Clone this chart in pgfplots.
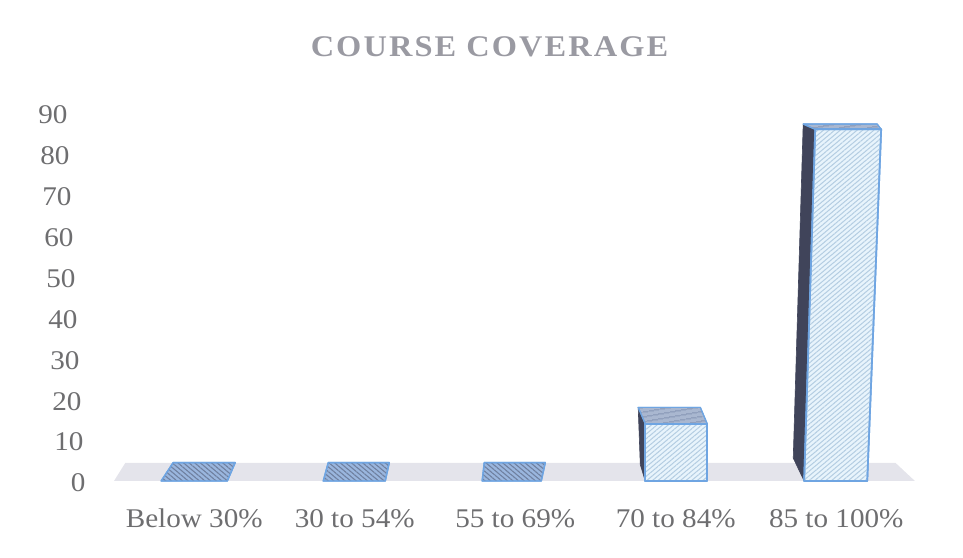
\documentclass[border=0pt]{standalone}
\usepackage{fontspec}
\setmainfont[FakeStretch=1.08]{Liberation Serif}
\usepackage{pgfplots}
\pgfplotsset{compat=1.18}
\usetikzlibrary{patterns.meta}
\definecolor{txt}{HTML}{6E6E70}
\definecolor{ttl}{HTML}{9A9AA2}
\definecolor{edge}{HTML}{6FA5E2}
\definecolor{frontfill}{HTML}{E8F4FC}
\definecolor{fronthatch}{HTML}{B4CDE2}
\definecolor{topfill}{HTML}{A9B7D0}
\definecolor{tophatch}{HTML}{8595B4}
\definecolor{flatfill}{HTML}{9AB6DE}
\definecolor{flathatch}{HTML}{6F80A0}
\definecolor{sidefill}{HTML}{40445A}
\definecolor{floorc}{HTML}{E4E4EB}
\tikzset{
  frontface/.style={draw=edge, line width=1.7pt, line join=round, preaction={fill=frontfill},
    pattern={Lines[angle=40,distance=3.6pt,line width=1pt]}, pattern color=fronthatch},
  topface/.style={draw=edge, line width=1.2pt, line join=round, preaction={fill=topfill},
    pattern={Lines[angle=10,distance=4pt,line width=1pt]}, pattern color=tophatch},
  flatface/.style={draw=edge, line width=1.4pt, line join=round, preaction={fill=flatfill},
    pattern={Lines[angle=-40,distance=3.6pt,line width=1.1pt]}, pattern color=flathatch},
  sideface/.style={draw=sidefill, fill=sidefill, line width=.6pt, line join=round},
}
\begin{document}
\begin{tikzpicture}
\begin{axis}[
    name=ax,
    scale only axis,
    width=802.5pt, height=368pt,
    xmin=-0.5, xmax=4.5, ymin=0, ymax=90,
    clip=false,
    axis line style={draw=none},
    major tick length=0pt,
    xtick={0,1,2,3,4},
    xticklabels={Below 30\%, 30 to 54\%, 55 to 69\%, 70 to 84\%, 85 to 100\%},
    ytick={0,10,...,90},
    /pgf/number format/assume math mode=true,
    tick label style={font=\fontsize{27}{30}\selectfont, text=txt},
    % the scanned labels lean: the higher the tick, the further left
    yticklabel={\pgfmathsetmacro\lean{\tick*0.2}\pgfmathprintnumber{\tick}\kern\lean pt\mbox{}},
    yticklabel style={xshift=-25pt, yshift=-2pt, anchor=east},
    xticklabel style={yshift=-28pt, anchor=north, inner sep=0pt},
    title={\addfontfeatures{LetterSpace=7}\bfseries COURSE COVERAGE},
    title style={font=\fontsize{30}{34}\selectfont, text=ttl, at={(axis cs:1.84,90)}, anchor=base, yshift=50pt},
]
% floor
\addplot[fill=floorc, draw=none] coordinates {(-0.5,0) (-0.43,4.4) (4.37,4.4) (4.49,0)} -- cycle;
% zero height bars
\addplot[flatface] coordinates {(-0.206,0) (-0.131,4.5) (0.255,4.5) (0.206,0)} -- cycle;
\addplot[flatface] coordinates {(0.804,0) (0.835,4.5) (1.215,4.5) (1.19,0)} -- cycle;
\addplot[flatface] coordinates {(1.794,0) (1.807,4.5) (2.187,4.5) (2.162,0)} -- cycle;
% 70 to 84
\addplot[sideface] coordinates {(2.81,0) (2.81,14) (2.766,18) (2.779,4)} -- cycle;
\addplot[topface] coordinates {(2.81,14) (2.766,18) (3.153,18) (3.196,14)} -- cycle;
\addplot[frontface] coordinates {(2.81,0) (2.81,14) (3.196,14) (3.196,0)} -- cycle;
% 85 to 100
\addplot[sideface] coordinates {(3.80,0) (3.869,86) (3.794,87.3) (3.732,5.6)} -- cycle;
\addplot[topface] coordinates {(3.869,86) (3.794,87.3) (4.255,87.3) (4.28,86)} -- cycle;
\addplot[frontface] coordinates {(3.80,0) (3.869,86) (4.28,86) (4.193,0)} -- cycle;
\end{axis}
\path (ax.south west) ++(-114pt,-77pt) (ax.north east) ++(46.5pt,113pt);
\end{tikzpicture}
\end{document}
